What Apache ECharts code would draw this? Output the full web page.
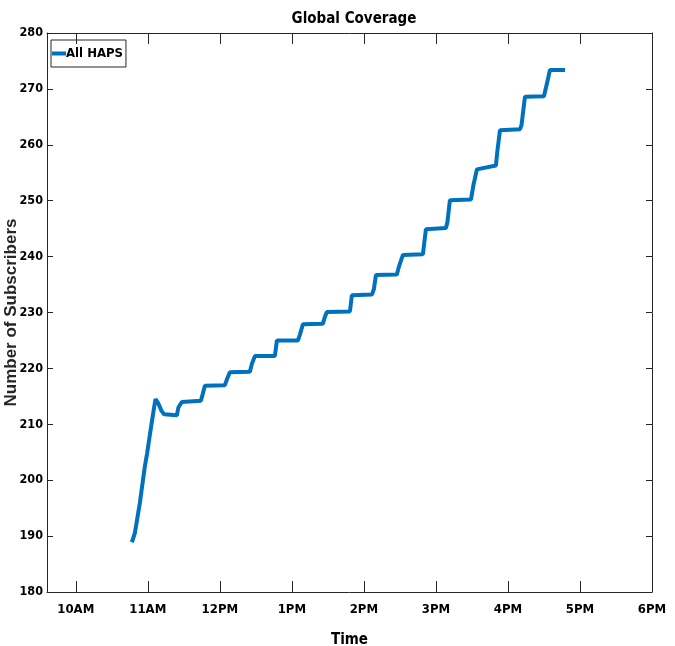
<!DOCTYPE html>
<html>
<head>
<meta charset="utf-8">
<script src="https://cdn.jsdelivr.net/npm/echarts@6/dist/echarts.min.js"></script>
<style>
    html, body { margin: 0; padding: 0; background: #fff; }
    #chart { width: 675px; height: 646px; }
</style>
</head>
<body>
<div id="chart"></div>
<script>
    // time of day in hours (10.5 = 10:30)
    var timeHours = [
        10.778, 10.819, 10.889, 10.926, 10.958, 10.990, 11.028, 11.060, 11.088, 11.107,
        11.143, 11.190, 11.226, 11.403, 11.424, 11.472, 11.736, 11.764, 11.792, 12.069,
        12.097, 12.139, 12.417, 12.444, 12.486, 12.764, 12.792, 13.083, 13.111, 13.153,
        13.431, 13.458, 13.486, 13.806, 13.833, 14.111, 14.139, 14.167, 14.458, 14.486,
        14.542, 14.819, 14.861, 15.139, 15.160, 15.194, 15.486, 15.521, 15.569, 15.833,
        15.854, 15.889, 16.167, 16.188, 16.236, 16.500, 16.542, 16.583, 16.792
    ];
    var subscribers = [
        188.9, 190.5, 195.9, 199.4, 202.4, 204.8, 208.1, 210.8, 213.1, 214.5,
        213.8, 212.4, 211.8, 211.6, 213.0, 214.0, 214.2, 215.5, 216.9, 217.0,
        218.0, 219.3, 219.4, 220.8, 222.2, 222.2, 225.0, 225.0, 226.0, 227.9,
        228.0, 229.2, 230.1, 230.2, 233.1, 233.2, 234.2, 236.7, 236.8, 238.2,
        240.3, 240.4, 244.9, 245.1, 246.2, 250.1, 250.2, 252.8, 255.6, 256.3,
        259.0, 262.6, 262.8, 263.5, 268.6, 268.7, 271.0, 273.4, 273.4
    ];
    var hourTicks = [10, 11, 12, 13, 14, 15, 16, 17, 18];
    var hourLabels = ['10AM', '11AM', '12PM', '1PM', '2PM', '3PM', '4PM', '5PM', '6PM'];

    var narrow = "'Liberation Sans Narrow', 'DejaVu Sans Condensed', 'Arial Narrow', sans-serif";
    var axisColor = '#262626';

    var lineData = [];
    for (var i = 0; i < timeHours.length; i++) {
        lineData.push([timeHours[i], subscribers[i]]);
    }

    var chart = echarts.init(document.getElementById('chart'));
    var option = {
        animation: false,
        title: {
            text: 'Global Coverage',
            left: 349,
            textAlign: 'center',
            top: 7,
            textStyle: { fontFamily: narrow, fontSize: 15, fontWeight: 'bold', color: '#000' }
        },
        legend: {
            data: ['All HAPS'],
            left: 51,
            top: 40,
            orient: 'vertical',
            itemWidth: 14,
            itemHeight: 4,
            padding: [7, 3, 7, 1],
            borderColor: '#262626',
            borderWidth: 1,
            borderRadius: 0,
            icon: 'rect',
            textStyle: { fontFamily: narrow, fontSize: 13, fontWeight: 'bold', color: '#000', padding: [0, 0, 0, -5] }
        },
        grid: { left: 47, right: 23, top: 33, bottom: 54, containLabel: false, outerBoundsMode: 'none' },
        xAxis: [{
            type: 'value',
            min: 9.6,
            max: 18,
            name: 'Time',
            nameLocation: 'middle',
            nameGap: 41,
            nameMoveOverlap: false,
            nameTextStyle: { fontFamily: narrow, fontSize: 15, fontWeight: 'bold', color: '#000', verticalAlign: 'top' },
            axisLine: { lineStyle: { color: axisColor, width: 1 } },
            axisTick: { inside: true, length: 11, customValues: hourTicks, lineStyle: { color: axisColor } },
            axisLabel: {
                customValues: hourTicks,
                margin: 11,
                fontFamily: narrow, fontSize: 13, fontWeight: 'bold', color: '#000',
                formatter: function (v) { return hourLabels[hourTicks.indexOf(Math.round(v))]; }
            },
            splitLine: { show: false }
        }, {
            type: 'value',
            position: 'top',
            min: 9.6,
            max: 18,
            axisLine: { lineStyle: { color: axisColor, width: 1 } },
            axisTick: { inside: true, length: 11, customValues: hourTicks, lineStyle: { color: axisColor } },
            axisLabel: { show: false },
            splitLine: { show: false }
        }],
        yAxis: [{
            type: 'value',
            min: 180,
            max: 280,
            interval: 10,
            name: 'Number of Subscribers',
            nameLocation: 'middle',
            nameGap: 27,
            nameMoveOverlap: false,
            nameTextStyle: { fontFamily: "'Liberation Sans', Arial, sans-serif", fontSize: 17, fontWeight: 'bold', color: '#262626' },
            axisLine: { show: true, lineStyle: { color: axisColor, width: 1 } },
            axisTick: { show: true, inside: true, length: 6, lineStyle: { color: axisColor } },
            axisLabel: { margin: 4, fontFamily: narrow, fontSize: 12.5, fontWeight: 'bold', color: '#000' },
            splitLine: { show: false }
        }, {
            type: 'value',
            position: 'right',
            min: 180,
            max: 280,
            interval: 10,
            axisLine: { show: true, lineStyle: { color: axisColor, width: 1 } },
            axisTick: { show: true, inside: true, length: 6, lineStyle: { color: axisColor } },
            axisLabel: { show: false },
            splitLine: { show: false }
        }],
        series: [{
            name: 'All HAPS',
            type: 'line',
            xAxisIndex: 0,
            yAxisIndex: 0,
            showSymbol: false,
            color: '#0072BD',
            lineStyle: { width: 4, color: '#0072BD' },
            data: lineData
        }]
    };
    chart.setOption(option);
</script>
</body>
</html>
